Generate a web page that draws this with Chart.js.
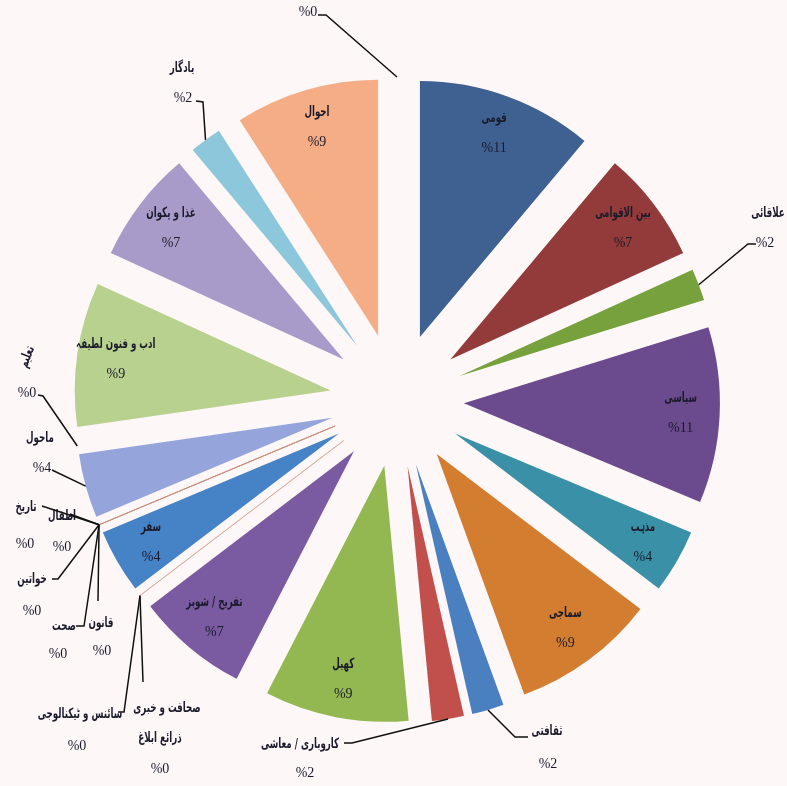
<!DOCTYPE html>
<html lang="ur">
<head>
<meta charset="utf-8">
<script src="https://cdn.jsdelivr.net/npm/chart.js@4.4.1/dist/chart.umd.min.js"></script>
<style>
  html, body { margin: 0; padding: 0; background: #fdf7f8; }
  #wrap { position: relative; width: 787px; height: 786px; }
</style>
</head>
<body>
<div id="wrap"><canvas id="pieChart"></canvas></div>
<script>
// 자료 (데이터)
const categories = [
  "قومی", "بین الاقوامی", "علاقائی", "سیاسی", "مذہب", "سماجی",
  "ثقافتی", "کاروباری / معاشی", "کھیل", "تفریح / شوبز",
  "صحافت و خبری ذرائع ابلاغ", "سائنس و ٹیکنالوجی", "سفر",
  "قانون", "صحت", "خواتین", "اطفال", "تاریخ", "ماحول", "تعلیم",
  "ادب و فنون لطیفہ", "غذا و پکوان", "یادگار", "احوال", "دیگر"
];
const values = [11, 7, 2, 11, 4, 9, 2, 2, 9, 7, 0, 0, 4, 0, 0, 0, 0, 0, 4, 0, 9, 7, 2, 9, 0];
const percentLabels = values.map(v => "%" + v);

const sliceColors = [
  "#3e6191", "#933a3a", "#77a13c", "#6b4a8e", "#3a90a6", "#d37d30",
  "#4a7fc0", "#c1504c", "#93b851", "#7a5aa0",
  "#c1504c", "#4a7fc0", "#4682c6",
  "#c1504c", "#4a7fc0", "#93b851", "#7a5aa0", "#3a90a6", "#95a5dc", "#d37d30",
  "#b9d18f", "#a99bc9", "#8dc7dc", "#f4ad84", "#3e6191"
];

// 스타일
const EXPLODE = 67;      // 조각 분리 거리
const PIE_RADIUS = 256;
const LABEL_DIST = 284;  // 중심에서 라벨까지
const NAME_FONT = 'bold 14px "DejaVu Sans"';
const NAME_SQUEEZE = 0.62; // 나스탈리크처럼 좁게
const PCT_FONT = '14px "Liberation Serif"';
const TEXT_COLOR = "#1b1b2b";

// 바깥 라벨 (인덱스 → 위치)
const callouts = {
  2:  { name: [768, 213], pct: [765, 243], line: [[748, 244], [756, 244]] },
  6:  { name: [547, 731], pct: [548, 764], line: [[515, 737], [528, 737]] },
  7:  { name: [300, 744], pct: [305, 773], line: [[352, 743], [344, 743]] },
  10: { name: [167, 708], name2: [160, 738], pct: [160, 769], line: [[143, 682]] },
  11: { name: [80, 714], pct: [77, 746], line: [[124, 712], [118, 712]] },
  13: { name: [101, 623], pct: [102, 651], line: [[98, 601]] },
  14: { name: [64, 626], pct: [58, 654], line: [[84, 626], [76, 626]] },
  15: { name: [32, 579], pct: [32, 611], line: [[58, 579], [52, 579]] },
  16: { name: [62, 516], pct: [62, 547], line: [[70, 514]] },
  17: { name: [26, 507], pct: [25, 544], line: [[42, 506]] },
  18: { name: [40, 438], pct: [42, 468], line: [[52, 470]] },
  19: { name: [27, 357], pct: [27, 393], line: [[43, 396], [38, 395]], rotate: -1.2 },
  22: { name: [182, 68], pct: [183, 98], line: [[203, 102], [196, 101]] },
  24: { name: [308, -22], pct: [308, 12], line: [[326, 15], [318, 15]] }
};

function drawName(ctx, text, x, y, rot) {
  ctx.save();
  ctx.translate(x, y);
  if (rot) ctx.rotate(rot);
  ctx.scale(NAME_SQUEEZE, 1);
  ctx.direction = "rtl";
  ctx.font = NAME_FONT;
  ctx.fillText(text, 0, 0);
  ctx.restore();
}

// 조각을 일정 거리만큼 띄워서 그리기
const explodePlugin = {
  id: "explodedSlices",
  beforeDatasetDraw(chart, args) {
    const ctx = chart.ctx;
    const arcs = args.meta.data;
    arcs.forEach((arc, i) => {
      const mid = (arc.startAngle + arc.endAngle) / 2;
      ctx.save();
      ctx.translate(Math.cos(mid) * EXPLODE, Math.sin(mid) * EXPLODE);
      if (arc.circumference === 0) {
        // 0% 묶음은 얇은 선으로만 보임
        const n = arcs.length;
        const grouped = values[(i + 1) % n] === 0 || values[(i - 1 + n) % n] === 0;
        if (grouped) {
          ctx.strokeStyle = "rgba(200,140,120,0.5)";
          ctx.lineWidth = 1;
          ctx.beginPath();
          ctx.moveTo(arc.x, arc.y);
          ctx.lineTo(arc.x + Math.cos(mid) * arc.outerRadius, arc.y + Math.sin(mid) * arc.outerRadius);
          ctx.stroke();
        }
      } else {
        arc.draw(ctx);
      }
      ctx.restore();
    });
    return false;
  }
};

// 라벨 그리기
const labelPlugin = {
  id: "sliceLabels",
  afterDatasetsDraw(chart) {
    const ctx = chart.ctx;
    const arcs = chart.getDatasetMeta(0).data;
    ctx.save();
    ctx.fillStyle = TEXT_COLOR;
    ctx.strokeStyle = "#111";
    ctx.textAlign = "center";
    ctx.textBaseline = "middle";

    arcs.forEach((arc, i) => {
      const mid = (arc.startAngle + arc.endAngle) / 2;
      const c = callouts[i];
      if (!c) {
        if (values[i] === 0) return;
        const lx = arc.x + Math.cos(mid) * LABEL_DIST;
        const ly = arc.y + Math.sin(mid) * LABEL_DIST;
        drawName(ctx, categories[i], lx, ly - 15);
        ctx.direction = "ltr";
        ctx.font = PCT_FONT;
        ctx.fillText(percentLabels[i], lx, ly + 15);
        return;
      }
      // 지시선
      const r = arc.outerRadius + EXPLODE;
      ctx.lineWidth = 1.5;
      ctx.beginPath();
      ctx.moveTo(arc.x + Math.cos(mid) * r, arc.y + Math.sin(mid) * r);
      c.line.forEach(p => ctx.lineTo(p[0], p[1]));
      ctx.stroke();

      if (c.name2) {
        const parts = ["صحافت و خبری", "ذرائع ابلاغ"];
        drawName(ctx, parts[0], c.name[0], c.name[1]);
        drawName(ctx, parts[1], c.name2[0], c.name2[1]);
      } else {
        drawName(ctx, categories[i], c.name[0], c.name[1], c.rotate);
      }
      ctx.direction = "ltr";
      ctx.font = PCT_FONT;
      ctx.fillText(percentLabels[i], c.pct[0], c.pct[1]);
    });
    ctx.restore();
  }
};

new Chart(document.getElementById("pieChart"), {
  type: "pie",
  data: {
    labels: categories,
    datasets: [{
      data: values,
      backgroundColor: sliceColors,
      borderWidth: 0
    }]
  },
  options: {
    responsive: true,
    maintainAspectRatio: false,
    animation: false,
    radius: PIE_RADIUS,
    layout: { padding: { left: 7, top: 14 } },
    plugins: {
      legend: { display: false },
      tooltip: { enabled: false }
    }
  },
  plugins: [explodePlugin, labelPlugin]
});
</script>
</body>
</html>
